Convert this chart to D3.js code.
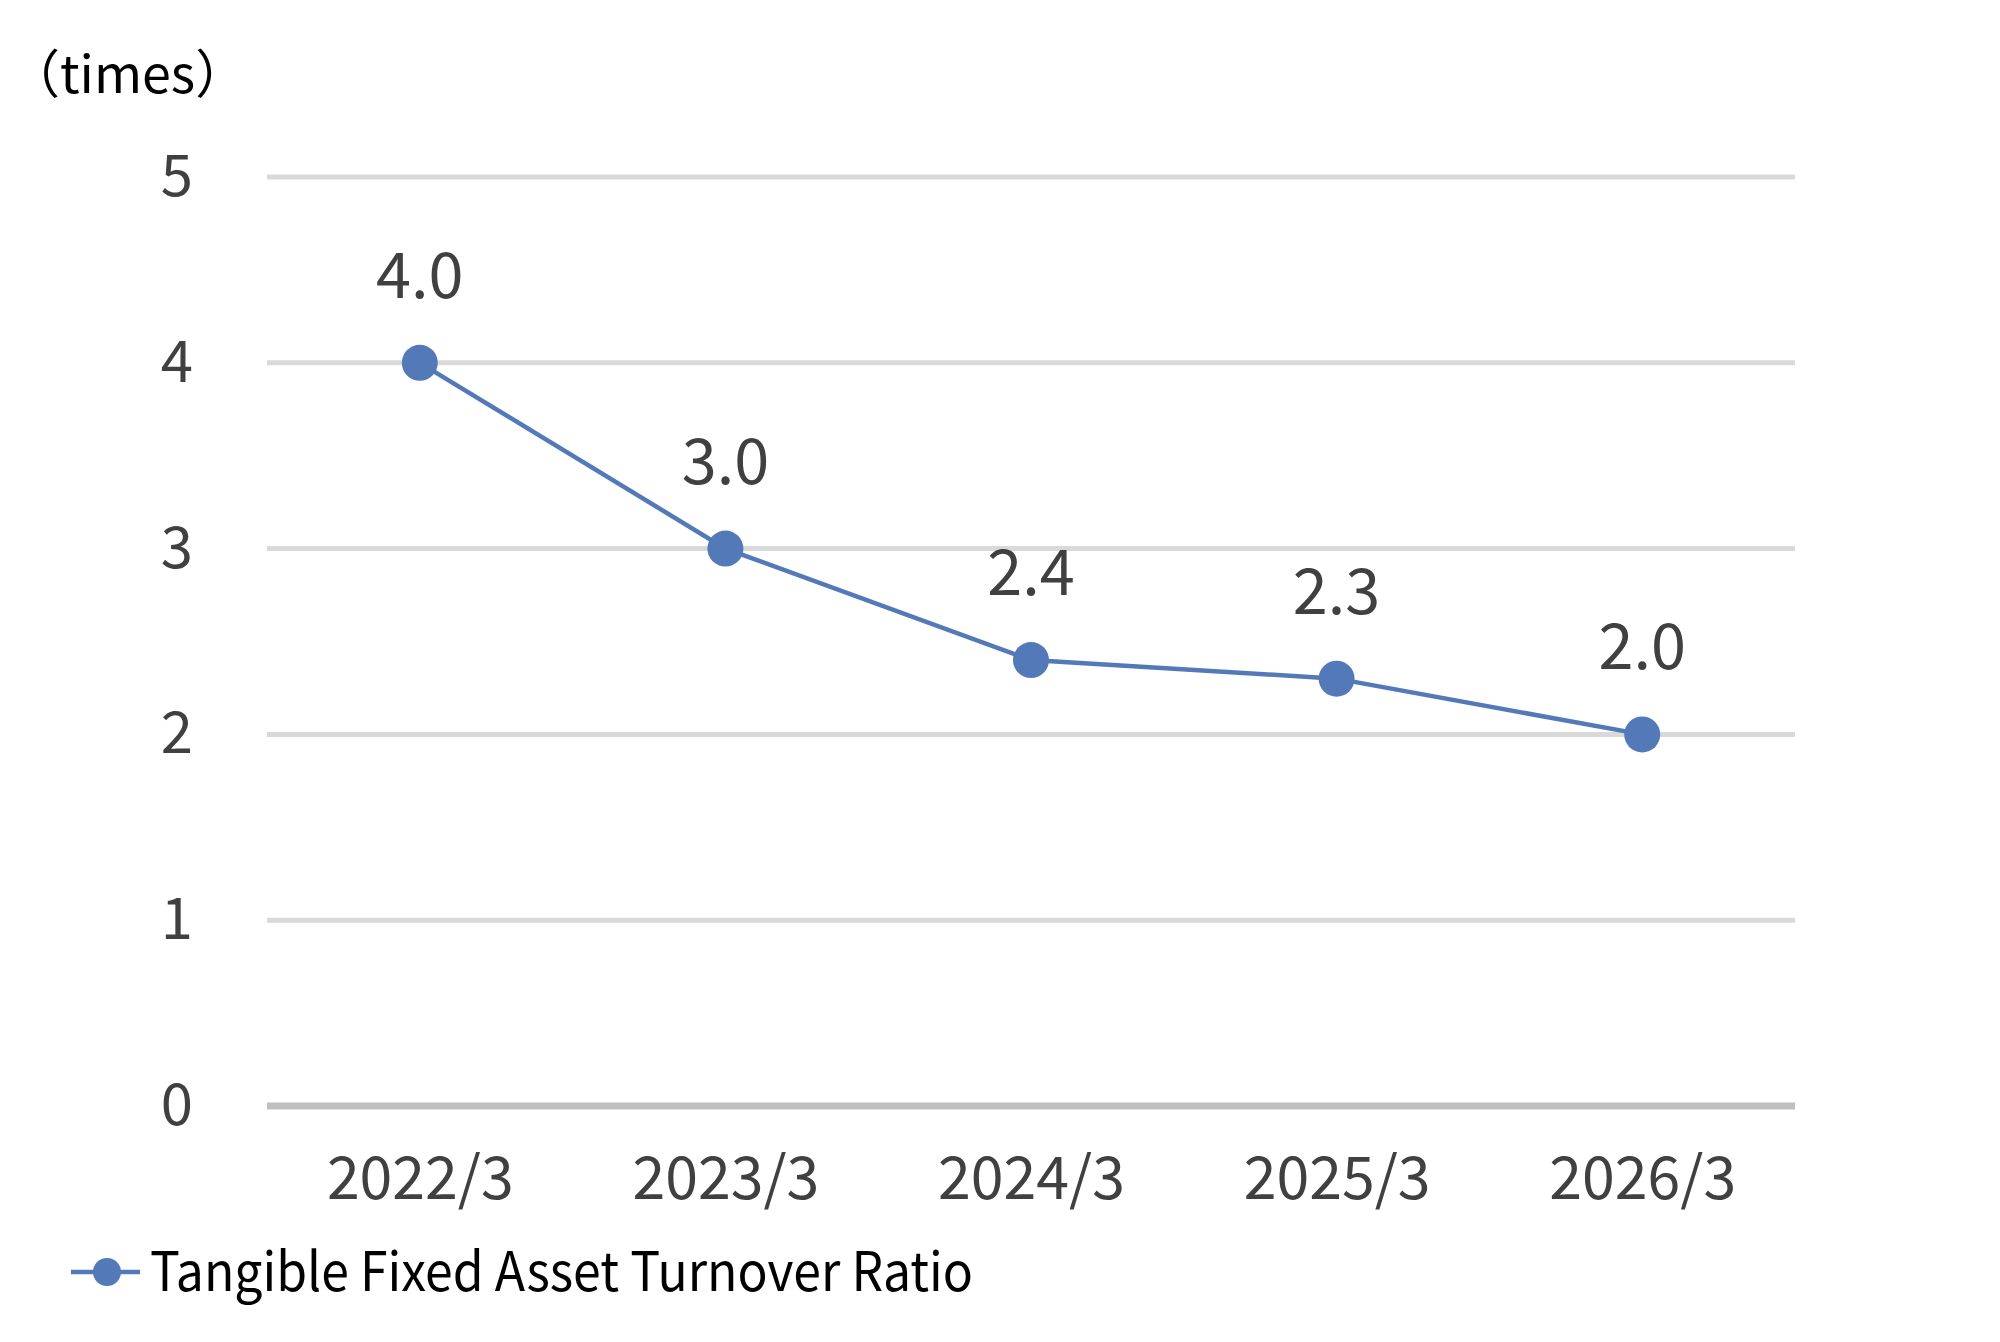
<!DOCTYPE html>
<html>
<head>
<meta charset="utf-8">
<script src="https://cdn.jsdelivr.net/npm/d3@7"></script>
<style>
  body { margin: 0; background: #fff; }
  svg text { font-family: "Noto Sans CJK JP", "Noto Sans", sans-serif; }
</style>
</head>
<body>
<div id="chart"></div>
<script>
var categories = ["2022/3", "2023/3", "2024/3", "2025/3", "2026/3"];
var ratios = [4.0, 3.0, 2.4, 2.3, 2.0];
var yTicks = [0, 1, 2, 3, 4, 5];
var seriesName = "Tangible Fixed Asset Turnover Ratio";
var unitLabel = "（times）";

var width = 2000, height = 1342;
var plot = {left: 267, right: 1795, top: 177, bottom: 1106};
var blue = "#5479b9";

var svg = d3.select("#chart").append("svg")
    .attr("width", width)
    .attr("height", height);

var x = d3.scalePoint()
    .domain(categories)
    .range([plot.left, plot.right])
    .padding(0.5);

var y = d3.scaleLinear()
    .domain([0, 5])
    .range([plot.bottom, plot.top]);

// gridlines
svg.append("g").selectAll("line")
    .data(yTicks.filter(function(d) { return d > 0; }))
  .enter().append("line")
    .attr("x1", plot.left).attr("x2", plot.right)
    .attr("y1", function(d) { return y(d); })
    .attr("y2", function(d) { return y(d); })
    .attr("stroke", "#d9d9d9")
    .attr("stroke-width", 5);

// y axis labels
var yAxis = svg.append("g")
    .attr("transform", "translate(" + (plot.left - 74) + ",0)")
    .call(d3.axisLeft(y).tickValues(yTicks).tickSize(0).tickPadding(0).tickFormat(d3.format("d")));
yAxis.select(".domain").remove();
yAxis.selectAll("text")
    .attr("fill", "#404040")
    .attr("font-size", 58)
    .attr("dy", "0.32em");

// baseline
svg.append("line")
    .attr("x1", plot.left).attr("x2", plot.right)
    .attr("y1", y(0)).attr("y2", y(0))
    .attr("stroke", "#bfbfbf")
    .attr("stroke-width", 7);

// x axis labels
var xAxis = svg.append("g")
    .attr("transform", "translate(0," + (plot.bottom + 51) + ")")
    .call(d3.axisBottom(x).tickSize(0).tickPadding(0));
xAxis.select(".domain").remove();
xAxis.selectAll("text")
    .attr("fill", "#404040")
    .attr("font-size", 59)
    .attr("dy", "0.71em");

// line
var line = d3.line()
    .x(function(d, i) { return x(categories[i]); })
    .y(function(d) { return y(d); });

svg.append("path")
    .datum(ratios)
    .attr("d", line)
    .attr("fill", "none")
    .attr("stroke", blue)
    .attr("stroke-width", 4.5);

svg.append("g").selectAll("circle")
    .data(ratios)
  .enter().append("circle")
    .attr("cx", function(d, i) { return x(categories[i]); })
    .attr("cy", function(d) { return y(d); })
    .attr("r", 18)
    .attr("fill", blue);

// data labels
svg.append("g").selectAll("text")
    .data(ratios)
  .enter().append("text")
    .attr("x", function(d, i) { return x(categories[i]); })
    .attr("y", function(d) { return y(d) - 65; })
    .attr("text-anchor", "middle")
    .attr("fill", "#404040")
    .attr("font-size", 63)
    .text(function(d) { return d3.format(".1f")(d); });

// unit label
svg.append("text")
    .attr("x", 8)
    .attr("y", 93)
    .attr("fill", "#000")
    .attr("font-size", 52)
    .text(unitLabel);

// legend
var legend = svg.append("g").attr("transform", "translate(0,1272)");
legend.append("line")
    .attr("x1", 71).attr("x2", 140)
    .attr("stroke", blue).attr("stroke-width", 4.5);
legend.append("circle")
    .attr("cx", 107).attr("r", 14)
    .attr("fill", blue);
legend.append("text")
    .attr("x", 150)
    .attr("y", 0)
    .attr("dy", "0.36em")
    .attr("fill", "#000")
    .attr("font-size", 54)
    .attr("textLength", 823)
    .attr("lengthAdjust", "spacingAndGlyphs")
    .text(seriesName);
</script>
</body>
</html>
